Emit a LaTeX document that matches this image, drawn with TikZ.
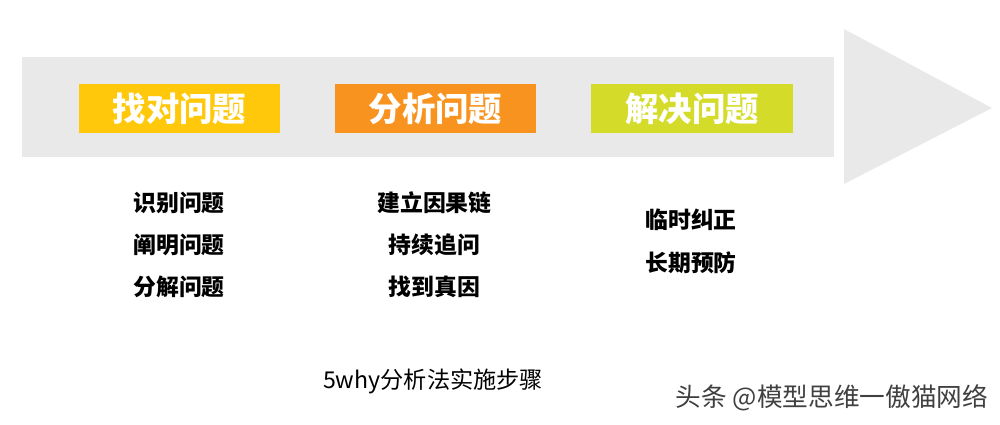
\documentclass[tikz,border=0pt]{standalone}
\usepackage{fontspec}
\newfontfamily\cjk{Noto Sans CJK SC}
\definecolor{band}{HTML}{E9E9E9}
\definecolor{cyellow}{HTML}{FFC80A}
\definecolor{corange}{HTML}{F7931E}
\definecolor{clime}{HTML}{D4DB29}
\begin{document}
\begin{tikzpicture}[x=0.02cm,y=-0.02cm,
  stagebox/.style={fill=#1,draw=none,minimum width=4.04cm,minimum height=0.98cm,text=white,
     font=\cjk\bfseries\fontsize{19}{19}\selectfont,inner sep=0pt},
  item/.style={font=\cjk\bfseries\fontsize{13}{13}\selectfont,text=black,inner sep=0pt}]
\useasboundingbox (0,0) rectangle (1000,424);
% arrow
\fill[band] (22,57) rectangle (834,157);
\fill[band] (844,29) -- (992,108) -- (844,184) -- cycle;
% stage boxes
\node[stagebox=cyellow] (s1) at (179.5,108.5) {找对问题};
\node[stagebox=corange] (s2) at (435.5,108.5) {分析问题};
\node[stagebox=clime] (s3) at (692,108.5) {解决问题};
% items
\node[item] (a1) at (179,203) {识别问题};
\node[item] (a2) at (179,245) {阐明问题};
\node[item] (a3) at (179,287) {分解问题};
\node[item] (b1) at (434.5,203) {建立因果链};
\node[item] (b2) at (434.5,245) {持续追问};
\node[item] (b3) at (434.5,287) {找到真因};
\node[item] (c1) at (691,220) {临时纠正};
\node[item] (c2) at (691,263) {长期预防};
% caption
\node[font=\cjk\fontsize{13.2}{13.2}\selectfont,inner sep=0pt] (cap) at (433,381) {5why分析法实施步骤};
\node[font=\cjk\fontsize{14.6}{14.6}\selectfont,text=black!75,inner sep=0pt] (wm) at (832,398) {头条 @模型思维一傲猫网络};
\end{tikzpicture}
\end{document}
